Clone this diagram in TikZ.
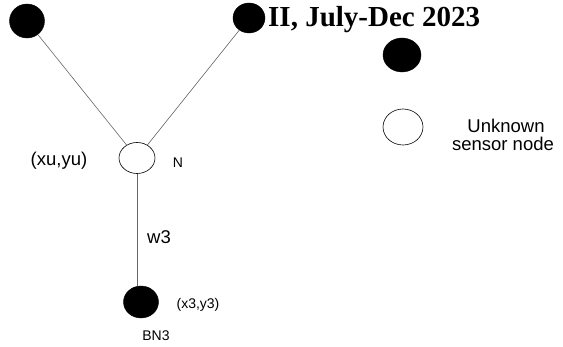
\documentclass[tikz,border=0pt]{standalone}
\usepackage{fontspec}
\setmainfont{Liberation Sans}
\newfontfamily\titlefont{Liberation Serif}
\usetikzlibrary{shapes.geometric}
\tikzset{
  beacon/.style={ellipse, fill=black, draw=black, inner sep=0pt},
  unknown/.style={ellipse, fill=white, draw=black, line width=0.6pt, inner sep=0pt},
  link/.style={draw=black!60, line width=0.6pt},
  biglabel/.style={font=\fontsize{18.5}{19}\selectfont, inner sep=0pt},
  smalllabel/.style={font=\fontsize{14}{15}\selectfont, inner sep=0pt}
}
\begin{document}
\begin{tikzpicture}[x=1pt,y=-1pt]
\useasboundingbox (0,0) rectangle (563,347);
% anchor (beacon) nodes
\node[beacon, minimum width=35pt, minimum height=34pt] (tl) at (27,21) {};
\node[beacon, minimum width=32pt, minimum height=30pt] (tr) at (249,18) {};
\node[beacon, minimum width=35pt, minimum height=32pt] (bn) at (141,302) {};
% node with unknown position
\node[unknown, minimum width=36pt, minimum height=31pt] (n) at (137,158) {};
% legend
\node[beacon, minimum width=38pt, minimum height=34pt] (lk) at (402,55) {};
\node[unknown, minimum width=40pt, minimum height=36pt] (lu) at (403,127) {};
\node[biglabel] (lt1) at (506,126) {Unknown};
\node[biglabel] (lt2) at (503,144) {sensor node};
% links
\draw[link] (n) -- (tl);
\draw[link] (n) -- (tr);
\draw[link] (n.south) -- (n.south |- bn.north);
% labels
\node[biglabel] (xu) at (59,161) {(xu,yu)};
\node[smalllabel] (nl) at (178,163) {N};
\node[biglabel] (w3) at (159,237) {w3};
\node[smalllabel] (x3) at (198,305) {(x3,y3)};
\node[smalllabel] (bnl) at (156,336) {BN3};
\node[anchor=base west, inner sep=0pt, font=\titlefont\bfseries\fontsize{29}{29}\selectfont] (title) at (268,27) {II, July-Dec 2023};
\end{tikzpicture}
\end{document}
